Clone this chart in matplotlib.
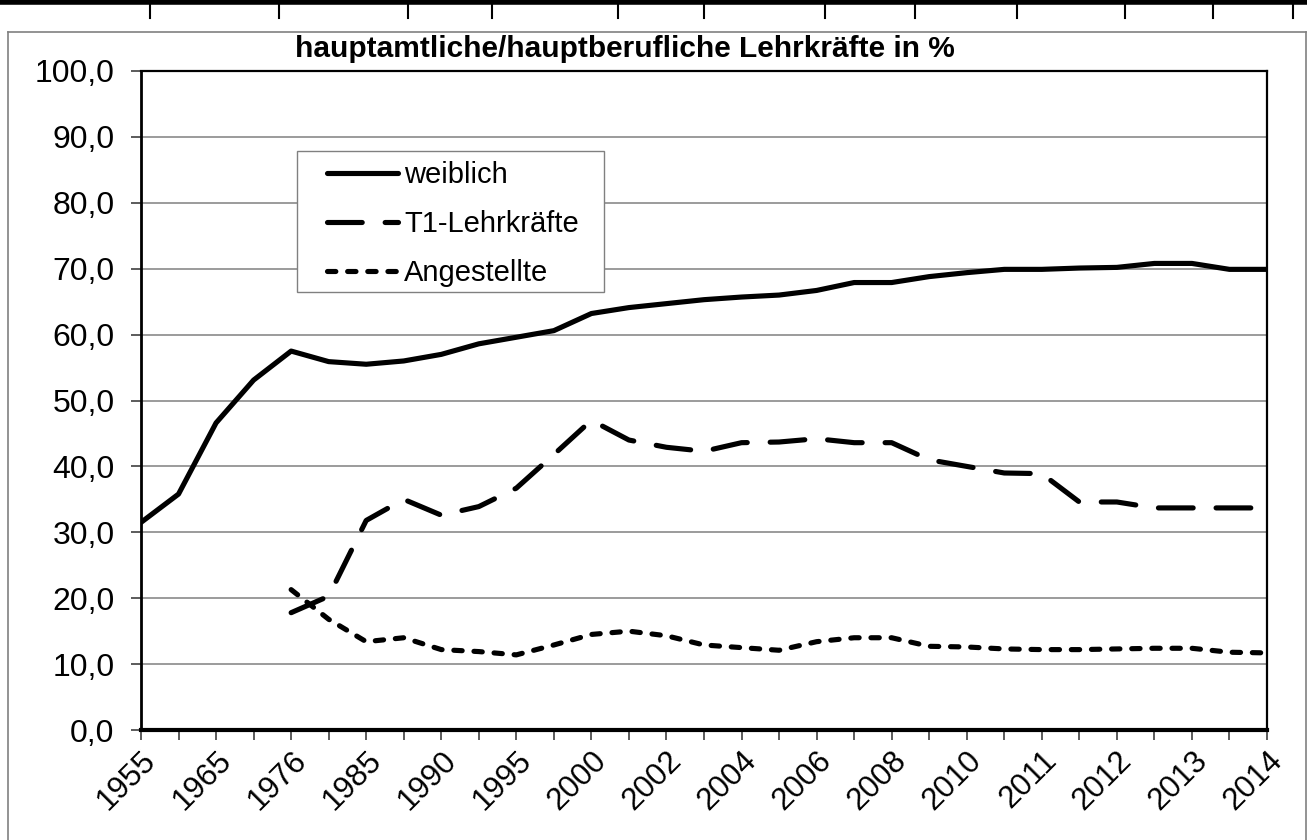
import numpy as np
import matplotlib
matplotlib.use("Agg")
import matplotlib.pyplot as plt
from matplotlib.lines import Line2D
from matplotlib.patches import Rectangle
from matplotlib.ticker import FixedLocator, FuncFormatter

plt.rcParams['font.family'] = ['Liberation Sans', 'DejaVu Sans']
plt.rcParams['lines.scale_dashes'] = False

# Values per category position (31 positions, every second one labelled)
year_labels = ["1955", "1965", "1976", "1985", "1990", "1995", "2000", "2002",
               "2004", "2006", "2008", "2010", "2011", "2012", "2013", "2014"]

weiblich = [31.5, 35.8, 46.6, 53.1, 57.5, 55.9, 55.5, 56.0, 57.0, 58.6, 59.6,
            60.6, 63.2, 64.1, 64.7, 65.3, 65.7, 66.0, 66.7, 67.9, 67.9, 68.8,
            69.4, 69.9, 69.9, 70.1, 70.2, 70.8, 70.8, 69.9, 69.9]

t1_lehrkraefte = [np.nan, np.nan, np.nan, np.nan,
                  17.8, 20.3, 31.8, 35.0, 32.6, 33.9, 36.7, 41.8, 47.0, 44.0,
                  42.9, 42.3, 43.6, 43.7, 44.2, 43.6, 43.6, 41.0, 40.0, 39.0,
                  38.9, 34.6, 34.6, 33.7, 33.7, 33.7, 33.7]

angestellte = [np.nan, np.nan, np.nan, np.nan,
               21.3, 16.8, 13.4, 14.0, 12.2, 11.9, 11.4, 12.9, 14.5, 15.0,
               14.3, 12.9, 12.5, 12.1, 13.4, 14.0, 14.0, 12.7, 12.6, 12.3,
               12.2, 12.2, 12.3, 12.4, 12.4, 11.8, 11.7]

series_names = ["weiblich", "T1-Lehrkräfte", "Angestellte"]
title = "hauptamtliche/hauptberufliche Lehrkräfte in %"

x = np.arange(len(weiblich))

fig = plt.figure(figsize=(13.07, 8.4), dpi=100)
ax = fig.add_axes([141 / 1307, 110 / 840, 1126 / 1307, 659 / 840])

lw = 3.7
ax.plot(x, weiblich, color="black", lw=lw, solid_capstyle="round",
        solid_joinstyle="round", label=series_names[0], zorder=3)
ax.plot(x, t1_lehrkraefte, color="black", lw=lw, dashes=(25, 16.5),
        dash_capstyle="round", dash_joinstyle="round",
        label=series_names[1], zorder=3)
ax.plot(x, angestellte, color="black", lw=lw, dashes=(6, 8.5),
        dash_capstyle="round", dash_joinstyle="round",
        label=series_names[2], zorder=3)

ax.set_xlim(0, len(weiblich) - 1)
ax.set_ylim(0, 100)
ax.set_yticks(np.arange(0, 101, 10))
ax.yaxis.set_major_formatter(FuncFormatter(lambda v, p: f"{v:.1f}".replace(".", ",")))
ax.xaxis.set_major_locator(FixedLocator(x[::2]))
ax.xaxis.set_minor_locator(FixedLocator(x[1::2]))
ax.set_xticklabels(year_labels, rotation=45, ha="right", va="top",
                   rotation_mode="anchor")

ax.grid(axis="y", color="#808080", lw=1.1, zorder=1)
ax.tick_params(axis="y", direction="out", length=7, width=1.2, color="#404040",
               labelsize=23, pad=12)
ax.tick_params(axis="x", which="both", direction="out", length=7, width=1.2,
               color="#404040", labelsize=22.5, pad=4)

for side in ["left", "right", "top"]:
    ax.spines[side].set_linewidth(1.6)
ax.spines["left"].set_linewidth(2.0)
ax.spines["bottom"].set_linewidth(3.0)

# legend box drawn separately so the entries can sit inside it like in the original
ax.add_patch(Rectangle(((297 - 141) / 1126, (730 - 292) / 659), 307 / 1126, 141 / 659,
                       transform=ax.transAxes, facecolor="white", edgecolor="#808080",
                       lw=1.0, zorder=4))
leg = ax.legend(loc="upper left", bbox_to_anchor=((327 - 141) / 1126, (730 - 161) / 659),
                borderaxespad=0, fontsize=21, frameon=False, handlelength=2.45,
                handletextpad=0.2, labelspacing=0.72, borderpad=0)
leg.set_zorder(5)

fig.text(625 / 1307, 1 - 49 / 840, title, ha="center", va="center",
         fontsize=21.5, fontweight="bold")

# outer chart frame and the strip of the table above
fig.add_artist(Line2D([8 / 1307, 1306 / 1307], [1 - 32 / 840, 1 - 32 / 840],
                      color="#808080", lw=1.2))
fig.add_artist(Line2D([8 / 1307, 8 / 1307], [0, 1 - 32 / 840], color="#808080", lw=1.2))
fig.add_artist(Line2D([1306 / 1307, 1306 / 1307], [0, 1 - 32 / 840], color="#808080", lw=1.2))
fig.add_artist(Line2D([0, 1], [1 - 2 / 840, 1 - 2 / 840], color="black", lw=4))
for xp in [150, 279, 408, 492, 618, 704, 825, 915, 1017, 1125, 1213, 1293]:
    fig.add_artist(Line2D([xp / 1307, xp / 1307], [1, 1 - 18 / 840], color="black", lw=1.5))

fig.savefig("out.png", dpi=100)
